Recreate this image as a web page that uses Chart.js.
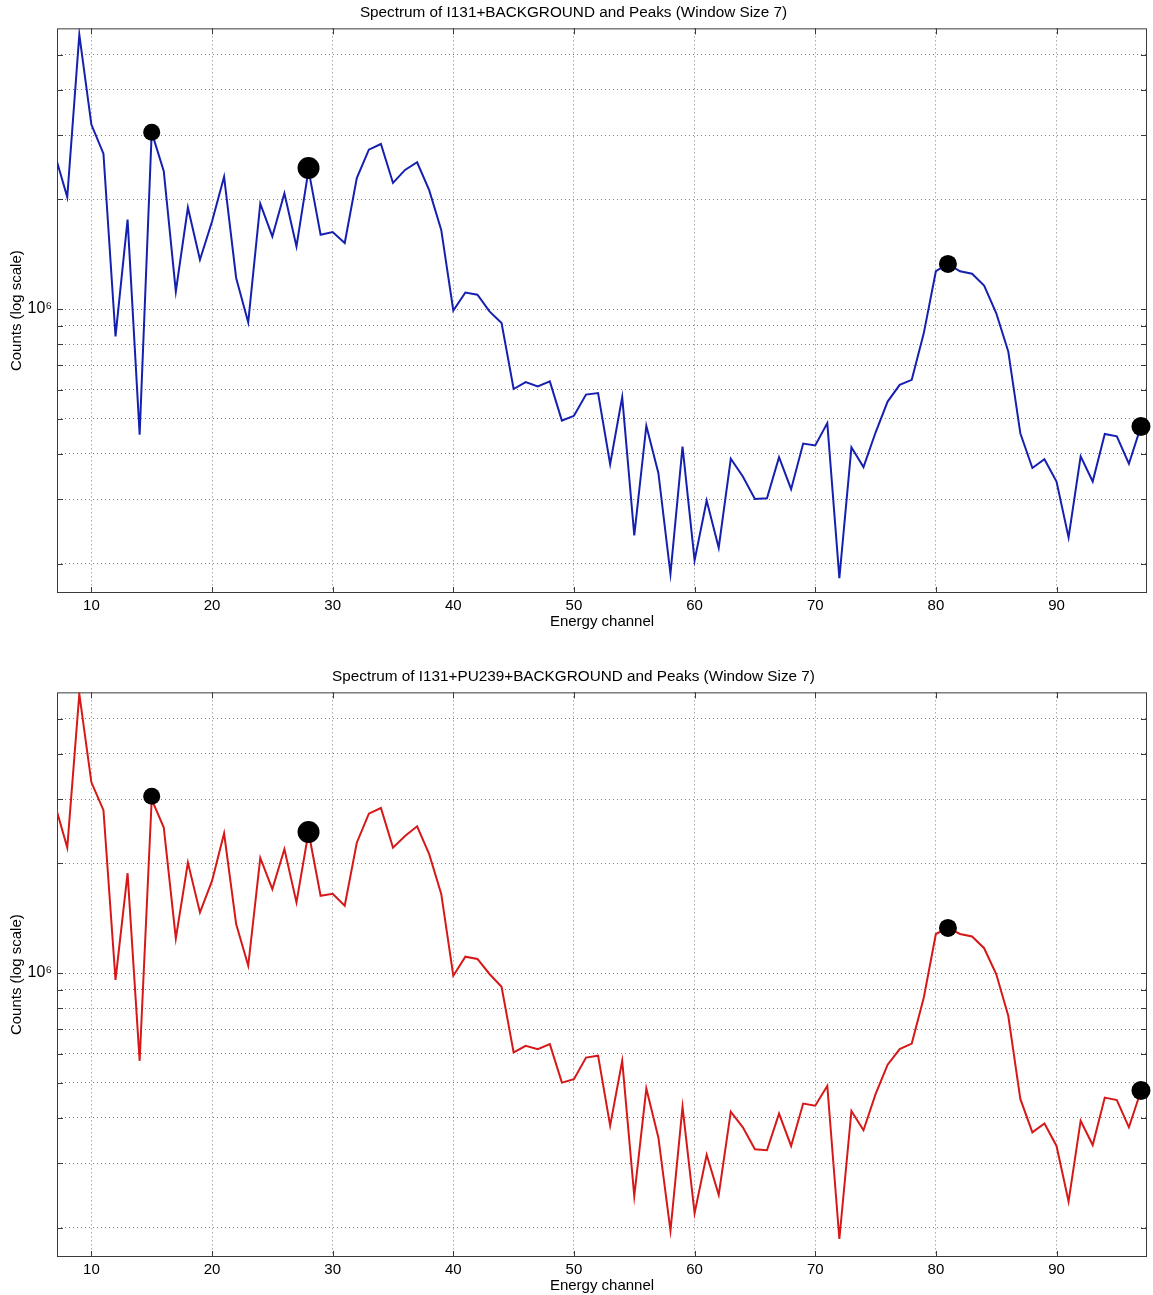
<!DOCTYPE html>
<html>
<head>
<meta charset="utf-8">
<title>Spectra and peaks</title>
<script src="https://cdn.jsdelivr.net/npm/chart.js@4"></script>
<style>
  html, body { margin: 0; padding: 0; background: #fff; overflow: hidden; }
  .plot { position: absolute; left: 0; width: 1153px; height: 640px; }
  #top { top: 0; }
  #bottom { top: 664px; }
</style>
</head>
<body>
<div class="plot" id="top"><canvas id="spec1" width="1153" height="640"></canvas></div>
<div class="plot" id="bottom"><canvas id="spec2" width="1153" height="640"></canvas></div>
<script>
// energy channels 7..97
const channels = Array.from({ length: 91 }, (_, i) => i + 7);

// I131 + background
const countsI131 = [
  2.64e6, 2.03e6, 5.67e6, 3.21e6, 2.67e6, 8.41e5, 1.76e6, 4.52e5, 3.06e6, 2.39e6,
  1.118e6, 1.90e6, 1.366e6, 1.74e6, 2.31e6, 1.217e6, 9.19e5, 1.946e6, 1.583e6, 2.08e6,
  1.486e6, 2.41e6, 1.60e6, 1.627e6, 1.518e6, 2.29e6, 2.74e6, 2.84e6, 2.22e6, 2.41e6,
  2.53e6, 2.12e6, 1.65e6, 9.91e5, 1.11e6, 1.095e6, 9.85e5, 9.15e5, 6.03e5, 6.30e5,
  6.13e5, 6.33e5, 4.94e5, 5.09e5, 5.82e5, 5.88e5, 3.75e5, 5.73e5, 2.39e5, 4.78e5,
  3.54e5, 1.874e5, 4.19e5, 2.04e5, 2.98e5, 2.21e5, 3.88e5, 3.47e5, 3.01e5, 3.02e5,
  3.92e5, 3.20e5, 4.27e5, 4.22e5, 4.86e5, 1.824e5, 4.17e5, 3.68e5, 4.58e5, 5.57e5,
  6.19e5, 6.39e5, 8.59e5, 1.27e6, 1.33e6, 1.27e6, 1.25e6, 1.16e6, 9.75e5, 7.65e5,
  4.56e5, 3.66e5, 3.87e5, 3.36e5, 2.36e5, 3.94e5, 3.36e5, 4.54e5, 4.47e5, 3.76e5,
  4.76e5
];

// I131 + PU239 + background
const countsI131Pu = [
  2.89e6, 2.21e6, 5.84e6, 3.34e6, 2.80e6, 9.58e5, 1.88e6, 5.74e5, 3.0e6, 2.51e6,
  1.245e6, 2.01e6, 1.467e6, 1.79e6, 2.42e6, 1.363e6, 1.047e6, 2.07e6, 1.70e6, 2.19e6,
  1.563e6, 2.44e6, 1.63e6, 1.65e6, 1.53e6, 2.28e6, 2.74e6, 2.84e6, 2.21e6, 2.38e6,
  2.53e6, 2.12e6, 1.65e6, 9.83e5, 1.109e6, 1.093e6, 9.94e5, 9.17e5, 6.05e5, 6.31e5,
  6.18e5, 6.38e5, 5.0e5, 5.11e5, 5.86e5, 5.93e5, 3.81e5, 5.74e5, 2.44e5, 4.82e5,
  3.53e5, 1.96e5, 4.29e5, 2.19e5, 3.17e5, 2.46e5, 4.16e5, 3.77e5, 3.28e5, 3.26e5,
  4.11e5, 3.35e5, 4.38e5, 4.32e5, 4.90e5, 1.86e5, 4.18e5, 3.70e5, 4.65e5, 5.60e5,
  6.18e5, 6.40e5, 8.57e5, 1.28e6, 1.33e6, 1.28e6, 1.26e6, 1.17e6, 9.94e5, 7.63e5,
  4.51e5, 3.65e5, 3.86e5, 3.35e5, 2.36e5, 3.93e5, 3.37e5, 4.55e5, 4.48e5, 3.77e5,
  4.75e5
];

// detected peaks
const peakChannels = [15, 28, 81, 97];
const peakCounts = [3.06e6, 2.44e6, 1.33e6, 4.76e5];

const xTicks = [10, 20, 30, 40, 50, 60, 70, 80, 90];
const yTicks = [2e5, 3e5, 4e5, 5e5, 6e5, 7e5, 8e5, 9e5, 1e6, 2e6, 3e6, 4e6, 5e6];

Chart.defaults.font.family = '"Liberation Sans", Arial, sans-serif';
Chart.defaults.font.size = 15;
Chart.defaults.color = '#000';

// matlab style box with inward tick marks
const axisBox = {
  id: 'axisBox',
  beforeDatasetsDraw(chart) {
    const { ctx, chartArea: a, scales: { x, y } } = chart;
    ctx.save();
    ctx.strokeStyle = '#3a3a3a';
    ctx.lineWidth = 1;
    ctx.strokeRect(a.left + 0.5, a.top + 0.5, a.right - a.left - 1, a.bottom - a.top - 1);
    ctx.beginPath();
    x.ticks.forEach(t => {
      const px = Math.round(x.getPixelForValue(t.value)) + 0.5;
      ctx.moveTo(px, a.top); ctx.lineTo(px, a.top + 6);
      ctx.moveTo(px, a.bottom); ctx.lineTo(px, a.bottom - 6);
    });
    y.ticks.forEach(t => {
      const py = Math.round(y.getPixelForValue(t.value)) + 0.5;
      ctx.moveTo(a.left, py); ctx.lineTo(a.left + 6, py);
      ctx.moveTo(a.right, py); ctx.lineTo(a.right - 6, py);
    });
    ctx.stroke();
    ctx.restore();
  }
};

function spectrumChart(id, title, counts, color) {
  const line = channels.map((c, i) => ({ x: c, y: counts[i] }));
  const peaks = peakChannels.map((c, i) => ({ x: c, y: peakCounts[i] }));
  return new Chart(document.getElementById(id), {
    type: 'line',
    data: {
      datasets: [
        {
          data: peaks,
          showLine: false,
          pointRadius: [8.5, 11, 9, 9.5],
          pointBackgroundColor: '#000',
          pointBorderWidth: 0,
          clip: false,
          order: 0
        },
        {
          data: line,
          borderColor: color,
          borderWidth: 2,
          pointRadius: 0,
          tension: 0,
          order: 1
        }
      ]
    },
    options: {
      responsive: false,
      animation: false,
      layout: { autoPadding: false, padding: { left: 0, right: 6, top: 0, bottom: 0 } },
      plugins: {
        legend: { display: false },
        tooltip: { enabled: false },
        title: {
          display: true,
          text: title,
          font: { size: 15.3, weight: 'normal' },
          color: '#000',
          padding: { top: 4, bottom: 6 }
        }
      },
      scales: {
        x: {
          type: 'linear',
          min: 7.15,
          max: 97.5,
          afterBuildTicks: s => { s.ticks = xTicks.map(v => ({ value: v })); },
          afterFit: s => { s.height = 47; },
          ticks: { padding: 4, maxRotation: 0, callback: v => String(v) },
          grid: { color: 'rgba(0,0,0,0.5)', drawTicks: false },
          border: { display: false, dash: [1, 3] },
          title: { display: true, text: 'Energy channel', padding: { top: 0, bottom: 9 } }
        },
        y: {
          type: 'logarithmic',
          min: 1.66e5,
          max: 5.9e6,
          afterBuildTicks: s => { s.ticks = yTicks.map(v => ({ value: v })); },
          afterFit: s => { s.width = 57; },
          ticks: { padding: 5, autoSkip: false, font: { size: 16 }, callback: v => (v === 1e6 ? '10\u2076' : '') },
          grid: { color: 'rgba(0,0,0,0.5)', drawTicks: false },
          border: { display: false, dash: [1, 3] },
          title: { display: true, text: 'Counts (log scale)', padding: { top: 8, bottom: 0 } }
        }
      }
    },
    plugins: [axisBox]
  });
}

spectrumChart('spec1', 'Spectrum of I131+BACKGROUND and Peaks (Window Size 7)', countsI131, 'rgb(22,32,176)');
spectrumChart('spec2', 'Spectrum of I131+PU239+BACKGROUND and Peaks (Window Size 7)', countsI131Pu, 'rgb(214,24,24)');
</script>
</body>
</html>
